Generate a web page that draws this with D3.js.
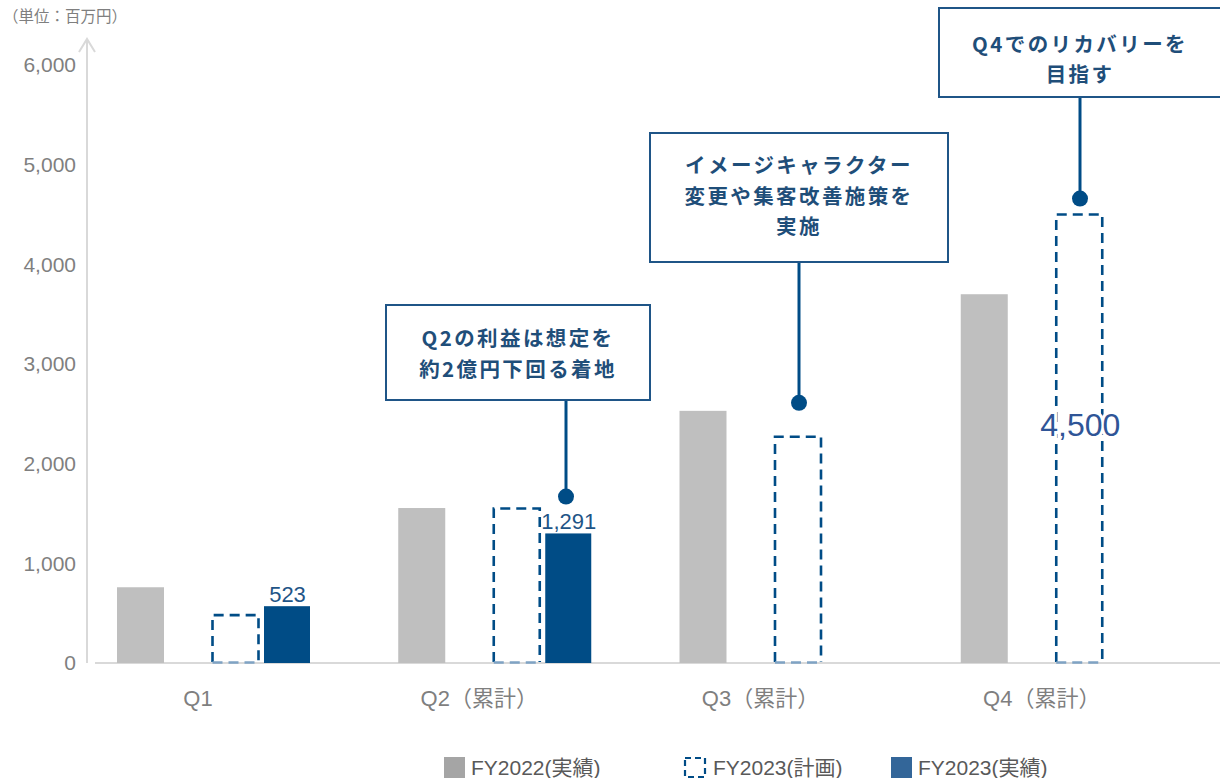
<!DOCTYPE html>
<html>
<head>
<meta charset="utf-8">
<script src="https://cdn.jsdelivr.net/npm/d3@7"></script>
<style>
  body { margin: 0; background: #fff; }
  svg { display: block; font-family: "Liberation Sans", Arial, "Noto Sans CJK JP", sans-serif; }
</style>
</head>
<body>
<svg id="chart" width="1220" height="778"></svg>
<script>
// data
const quarters = ["Q1", "Q2（累計）", "Q3（累計）", "Q4（累計）"];
const fy2022Actual = [760, 1555, 2530, 3700];
const fy2023Plan = [480, 1550, 2270, 4500];
const fy2023Actual = [570, 1300, null, null];
const fy2023ActualLabels = ["523", "1,291", null, null];
const planLabels = [null, null, null, "4,500"];
const yTicks = [0, 1000, 2000, 3000, 4000, 5000, 6000];
const seriesNames = ["FY2022(実績)", "FY2023(計画)", "FY2023(実績)"];
const notes = [
  { quarter: "Q2（累計）", value: 1670, lines: ["Q2の利益は想定を", "約2億円下回る着地"] },
  { quarter: "Q3（累計）", value: 2610, lines: ["イメージキャラクター", "変更や集客改善施策を", "実施"] },
  { quarter: "Q4（累計）", value: 4660, lines: ["Q4でのリカバリーを", "目指す"] }
];

const navy = "#004C86";
const svg = d3.select("#chart");

const x = d3.scaleBand().domain(quarters).range([95, 1220]);
const y = d3.scaleLinear().domain([0, 6000]).range([663, 65]);
const barW = 47;
const offset = d3.scaleOrdinal().domain(seriesNames).range([22, 116, 169]);

// unit label
svg.append("text").attr("x", 3).attr("y", 22)
  .attr("font-size", 15.5).attr("fill", "#7f7f7f")
  .text("（単位：百万円）");

// y axis line with arrow
svg.append("line").attr("x1", 87).attr("x2", 87).attr("y1", 40).attr("y2", 663)
  .attr("stroke", "#d9d9d9").attr("stroke-width", 2);
svg.append("path").attr("d", "M79,52 L87,39 L95,52")
  .attr("fill", "none").attr("stroke", "#d9d9d9").attr("stroke-width", 2);

const yAxis = svg.append("g").attr("transform", "translate(76,0)")
  .call(d3.axisLeft(y).tickValues(yTicks).tickSize(0).tickPadding(0).tickFormat(d3.format(",")));
yAxis.select(".domain").remove();
yAxis.selectAll("text").attr("font-size", 21).attr("fill", "#7f7f7f")
  .attr("font-family", "Liberation Sans, Arial, sans-serif");

// x axis line
svg.append("line").attr("x1", 95).attr("x2", 1220).attr("y1", 663).attr("y2", 663)
  .attr("stroke", "#d9d9d9").attr("stroke-width", 2);

// category labels
svg.selectAll(".cat").data(quarters).enter().append("text")
  .attr("x", d => x(d) + 103).attr("y", 706)
  .attr("text-anchor", "middle").attr("font-size", 22).attr("fill", "#7f7f7f")
  .text(d => d);

// FY2022 actual
svg.selectAll(".b22").data(quarters).enter().append("rect")
  .attr("x", d => x(d) + offset(seriesNames[0]))
  .attr("y", (d, i) => y(fy2022Actual[i]))
  .attr("width", barW)
  .attr("height", (d, i) => y(0) - y(fy2022Actual[i]))
  .attr("fill", "#bfbfbf");

// FY2023 plan (dashed outline)
const plan = svg.selectAll(".plan").data(quarters).enter().append("g");
plan.append("path")
  .attr("d", (d, i) => {
    const x0 = x(d) + offset(seriesNames[1]) + 1.5, x1 = x0 + barW - 1;
    const y0 = y(0) - 1, y1 = y(fy2023Plan[i]);
    return `M${x0},${y0} L${x0},${y1} L${x1},${y1} L${x1},${y0}`;
  })
  .attr("fill", "none").attr("stroke", navy).attr("stroke-width", 2.6)
  .attr("stroke-dasharray", "10,6");
plan.append("line")
  .attr("x1", d => x(d) + offset(seriesNames[1]) + 1.5)
  .attr("x2", d => x(d) + offset(seriesNames[1]) + barW + 0.5)
  .attr("y1", y(0) - 0.5).attr("y2", y(0) - 0.5)
  .attr("stroke", "#7fa3c4").attr("stroke-width", 2.5)
  .attr("stroke-dasharray", "10,6");

// FY2023 actual
const actIdx = quarters.map((d, i) => i).filter(i => fy2023Actual[i] != null);
svg.selectAll(".b23").data(actIdx).enter().append("rect")
  .attr("x", i => x(quarters[i]) + offset(seriesNames[2]))
  .attr("y", i => y(fy2023Actual[i]))
  .attr("width", barW - 1)
  .attr("height", i => y(0) - y(fy2023Actual[i]))
  .attr("fill", navy);
svg.selectAll(".l23").data(actIdx).enter().append("text")
  .attr("x", i => x(quarters[i]) + offset(seriesNames[2]) + barW / 2)
  .attr("y", i => y(fy2023Actual[i]) - 4)
  .attr("text-anchor", "middle").attr("font-size", 22).attr("fill", "#1f5587")
  .text(i => fy2023ActualLabels[i]);

// plan label inside bar
const planIdx = quarters.map((d, i) => i).filter(i => planLabels[i] != null);
svg.selectAll(".lp").data(planIdx).enter().append("text")
  .attr("x", i => x(quarters[i]) + offset(seriesNames[1]) + barW / 2 + 2)
  .attr("y", 436)
  .attr("text-anchor", "middle").attr("font-size", 32).attr("fill", "#2f5597")
  .attr("stroke", "#fff").attr("stroke-width", 6).attr("paint-order", "stroke")
  .text(i => planLabels[i]);

// annotations
const boxes = [
  { x: 386, y: 305, w: 264, h: 95, dx: 566, cx: 518, line0: 346, lh: 31 },
  { x: 650, y: 133, w: 298, h: 129, dx: 799, cx: 799, line0: 173, lh: 30.5 },
  { x: 939, y: 8, w: 290, h: 89, dx: 1080, cx: 1080, line0: 52, lh: 29.5 }
];
notes.forEach((n, k) => {
  const b = boxes[k];
  const g = svg.append("g");
  g.append("line").attr("x1", b.dx).attr("x2", b.dx).attr("y1", b.y + b.h).attr("y2", y(n.value))
    .attr("stroke", navy).attr("stroke-width", 3);
  g.append("circle").attr("cx", b.dx).attr("cy", y(n.value)).attr("r", 8).attr("fill", navy);
  g.append("rect").attr("x", b.x).attr("y", b.y).attr("width", b.w).attr("height", b.h)
    .attr("fill", "#fff").attr("stroke", "#1f5587").attr("stroke-width", 2);
  n.lines.forEach((t, j) => {
    g.append("text").attr("x", b.cx)
      .attr("y", b.line0 + j * b.lh)
      .attr("text-anchor", "middle").attr("font-size", 20.5).attr("font-weight", "bold")
      .attr("letter-spacing", 2.4)
      .attr("fill", "#1f4e79")
      .attr("font-family", "Noto Sans CJK JP, sans-serif")
      .text(t);
  });
});

// legend
const legendX = [444, 684, 891];
const leg = svg.selectAll(".leg").data(seriesNames).enter().append("g")
  .attr("transform", (d, i) => `translate(${legendX[i]},757)`);
leg.each(function (d, i) {
  const g = d3.select(this);
  if (i === 1) {
    g.append("rect").attr("x", 1).attr("y", 1).attr("width", 20).attr("height", 19)
      .attr("fill", "none").attr("stroke", navy).attr("stroke-width", 2.2)
      .attr("stroke-dasharray", "6,4");
  } else {
    g.append("rect").attr("width", 21).attr("height", 21)
      .attr("fill", i === 0 ? "#a5a5a5" : "#336699");
  }
  g.append("text").attr("x", i === 1 ? 29 : 27).attr("y", 18)
    .attr("font-size", 21).attr("fill", "#595959").text(d);
});
</script>
</body>
</html>
